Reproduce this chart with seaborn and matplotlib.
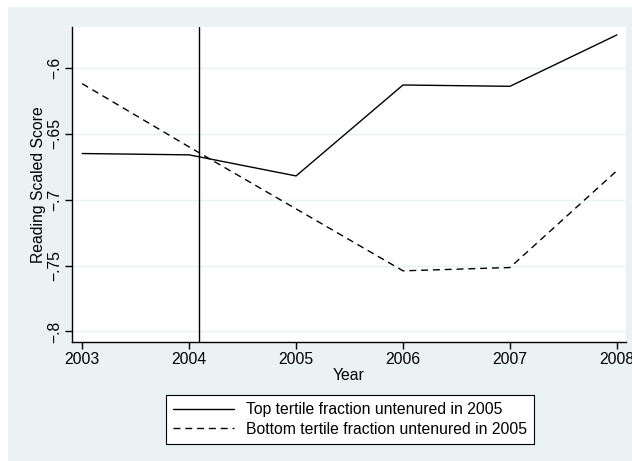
#--Reading scores by tertile of untenured fraction--#
import pandas as pd
import seaborn as sns
import matplotlib.pyplot as plt
from matplotlib.patches import Rectangle

#--Data--#
years = [2003, 2004, 2005, 2006, 2007, 2008]
top_tertile = [-0.665, -0.666, -0.682, -0.613, -0.614, -0.575]
bottom_tertile = [-0.612, -0.660, -0.707, -0.754, -0.7515, -0.678]
series_names = ["Top tertile fraction untenured in 2005",
                "Bottom tertile fraction untenured in 2005"]
y_ticks = [-0.8, -0.75, -0.7, -0.65, -0.6]
y_tick_labels = ["\u2212.8", "\u2212.75", "\u2212.7", "\u2212.65", "\u2212.6"]
x_ticks = years
event_year = 2004.09

df = pd.DataFrame({
    "Year": years * 2,
    "score": top_tertile + bottom_tertile,
    "group": [series_names[0]] * len(years) + [series_names[1]] * len(years),
})

#--Style--#
sns.set_theme(style="white")
plt.rcParams['font.family'] = ['Liberation Sans', 'DejaVu Sans']
plt.rcParams['text.color'] = 'black'
plt.rcParams['axes.labelcolor'] = 'black'
plt.rcParams['xtick.color'] = 'black'
plt.rcParams['ytick.color'] = 'black'
bg = "#EAF2F3"
fs = 11.3

fig = plt.figure(figsize=(6.32, 4.61), dpi=100)
fig.patches.append(Rectangle((8 / 632, 0), 1, 1 - 7 / 461, transform=fig.transFigure,
                             facecolor=bg, edgecolor="none", zorder=-5))
ax = fig.add_axes([72 / 632, 1 - 342 / 461, (626 - 72) / 632, (342 - 27) / 461])
ax.set_facecolor("white")

sns.lineplot(data=df, x="Year", y="score", style="group", ax=ax,
             color="black", linewidth=1.0,
             dashes={series_names[0]: "", series_names[1]: (5, 3.5)},
             legend=False)
ax.axvline(event_year, color="black", linewidth=1.0)

#--Axes--#
ax.set_xlim(2002.905, 2008.085)
ax.set_ylim(-0.808, -0.569)
ax.set_xticks(x_ticks)
ax.set_xticklabels([str(y) for y in x_ticks], fontsize=fs)
ax.set_yticks(y_ticks)
ax.set_yticklabels(y_tick_labels, fontsize=fs, rotation=90, va="center")
ax.tick_params(axis="both", direction="out", length=5, width=1, color="black",
               labelcolor="black", left=True, bottom=True, pad=2)
ax.grid(axis="y", color=bg, linewidth=1.0)
ax.set_axisbelow(True)
for side in ["top", "right"]:
    ax.spines[side].set_visible(False)
for side in ["left", "bottom"]:
    ax.spines[side].set_color("black")
    ax.spines[side].set_linewidth(1.0)
ax.set_xlabel("Year", fontsize=fs, labelpad=1, color="black")
ax.set_ylabel("Reading Scaled Score", fontsize=fs, labelpad=1, color="black")

#--Legend--#
handles = [plt.Line2D([], [], color="black", linewidth=1.0),
           plt.Line2D([], [], color="black", linewidth=1.0, dashes=(5, 3.5))]
leg = fig.legend(handles, series_names, loc="center",
                 bbox_to_anchor=(350 / 632, 1 - 419.5 / 461),
                 fontsize=fs, frameon=True, fancybox=False, framealpha=1,
                 handlelength=3.9, handletextpad=0.8, borderpad=0.45,
                 labelspacing=0.3)
leg.get_frame().set_edgecolor("black")
leg.get_frame().set_linewidth(0.8)
leg.get_frame().set_facecolor("white")

fig.savefig("out.png", dpi=100, facecolor="white")
